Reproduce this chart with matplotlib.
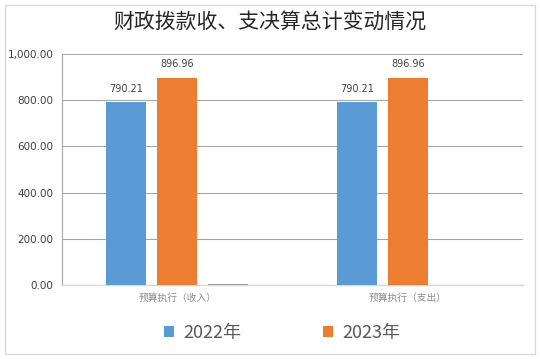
import numpy as np
import matplotlib
matplotlib.use("Agg")
import matplotlib.pyplot as plt
from matplotlib.patches import Rectangle

plt.rcParams["font.family"] = ["Noto Sans CJK SC", "DejaVu Sans"]

categories = ["预算执行（收入）", "预算执行（支出）"]
values_2022 = [790.21, 790.21]
values_2023 = [896.96, 896.96]
values_other = [0.0, np.nan]
series_names = ["2022年", "2023年"]
y_ticks = [0, 200, 400, 600, 800, 1000]

blue = "#5b9bd5"
orange = "#ed7d31"

fig = plt.figure(figsize=(5.4, 3.59), dpi=100)
ax = fig.add_axes([62 / 540, 1 - 285 / 359, (523 - 62) / 540, (285 - 54) / 359])

x = np.arange(len(categories))
w = 40 / 230.5
step = 51 / 230.5
b1 = ax.bar(x - step, values_2022, w, color=blue, label=series_names[0], zorder=3)
b2 = ax.bar(x, values_2023, w, color=orange, label=series_names[1], zorder=3)
ax.bar(x + step, values_other, w, color="#a5a5a5", edgecolor="#a0a0a0", linewidth=1.5, zorder=3)

for bars, vals in ((b1, values_2022), (b2, values_2023)):
    for rect, v in zip(bars, vals):
        ax.text(rect.get_x() + rect.get_width() / 2, v + 38, f"{v:,.2f}",
                ha="center", va="bottom", fontsize=7, color="#404040",
                family="DejaVu Sans", zorder=4)

ax.set_xlim(-0.5, 1.5)
ax.set_ylim(0, 1000)
ax.set_yticks(y_ticks)
ax.set_yticklabels([f"{t:,.2f}" for t in y_ticks], fontsize=7.5, color="#404040",
                   family="DejaVu Sans")
ax.set_xticks(x)
ax.set_xticklabels(categories, fontsize=7, color="#8c8c8c")
ax.tick_params(axis="both", length=0, pad=6)
ax.tick_params(axis="x", pad=6)
ax.grid(axis="y", color="#a6a6a6", linewidth=0.8, zorder=0)
for s in ("top", "right"):
    ax.spines[s].set_visible(False)
ax.spines["left"].set_color("#a6a6a6")
ax.spines["left"].set_linewidth(0.8)
ax.spines["bottom"].set_color("#d9d9d9")
ax.spines["bottom"].set_linewidth(1.0)

fig.text(0.5, 1 - 23 / 359, "财政拨款收、支决算总计变动情况", ha="center", va="center",
         fontsize=15, color="#262626", fontweight="light")

fig.legend(handles=[b1, b2], labels=series_names, loc="center",
           bbox_to_anchor=(282 / 540, 1 - 333 / 359), ncol=2, frameon=False,
           fontsize=13, handlelength=0.6, handleheight=0.6, columnspacing=4.5,
           handletextpad=0.5, labelcolor="#595959")

fig.patches.append(Rectangle((5 / 540, 1 - 354 / 359), 530 / 540, 349 / 359,
                             transform=fig.transFigure, fill=False,
                             edgecolor="#d9d9d9", linewidth=1.0))

fig.savefig("out.png", dpi=100)
